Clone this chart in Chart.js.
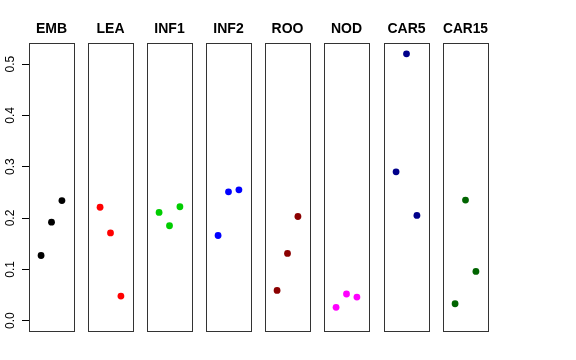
<!DOCTYPE html>
<html><head><meta charset="utf-8">
<script src="https://cdn.jsdelivr.net/npm/chart.js@4/dist/chart.umd.min.js"></script>
<style>
html,body{margin:0;padding:0;background:#fff;}
#wrap{position:relative;width:576px;height:360px;overflow:hidden;}
canvas{position:absolute;top:0;}
</style></head>
<body><div id="wrap"></div>
<script>
const categories = ['EMB','LEA','INF1','INF2','ROO','NOD','CAR5','CAR15'];
const rep1 = [0.127, 0.221, 0.211, 0.166, 0.059, 0.026, 0.290, 0.033];
const rep2 = [0.192, 0.171, 0.185, 0.251, 0.131, 0.052, 0.520, 0.235];
const rep3 = [0.234, 0.048, 0.222, 0.255, 0.203, 0.046, 0.205, 0.096];
const colors = ['#000000','#FF0000','#00CD00','#0000FF','#8B0000','#FF00FF','#00008B','#006400'];
const yTicks = [0, 0.1, 0.2, 0.3, 0.4, 0.5];
const xPos = [1, 2, 3];

const panelLefts = [29, 88, 147, 206, 265, 324, 384, 443];
const panelW = 45;
const FONT = "'Liberation Sans', Arial, Helvetica, sans-serif";

const framePlugin = {
  id: 'frame',
  afterDraw(chart) {
    const a = chart.chartArea, ctx = chart.ctx;
    ctx.save();
    ctx.strokeStyle = '#333';
    ctx.lineWidth = 1;
    ctx.strokeRect(Math.round(a.left) + 0.5, Math.round(a.top) + 0.5,
                   Math.round(a.right - a.left), Math.round(a.bottom - a.top));
    ctx.restore();
  }
};

const wrap = document.getElementById('wrap');
categories.forEach((cat, i) => {
  const first = i === 0;
  const side = 7;
  const cv = document.createElement('canvas');
  const w = first ? panelW + 29 + 29 : panelW + 2 * side;
  const left = first ? 0 : panelLefts[i] - side;
  cv.width = w; cv.height = 360;
  cv.style.width = w + 'px'; cv.style.height = '360px';
  cv.style.left = left + 'px';
  wrap.appendChild(cv);
  const vals = [rep1[i], rep2[i], rep3[i]];
  const scales = {
    x: { type: 'linear', min: -0.16, max: 4.16, display: false },
    y: {
      type: 'linear', min: -0.0201, max: 0.541,
      display: first,
      afterBuildTicks: s => { s.ticks = yTicks.map(v => ({ value: v })); },
      afterFit: s => { if (first) s.width = 29; },
      border: { display: false },
      grid: { display: true, drawOnChartArea: false, drawTicks: true, tickLength: 7, color: '#000', tickColor: '#000', lineWidth: 1 },
      ticks: {
        minRotation: 90, maxRotation: 90, crossAlign: 'center', padding: 3,
        color: '#000', font: { family: FONT, size: 12 },
        callback: v => Number(v).toFixed(1)
      }
    }
  };
  if (first) {
    scales.ySpacer = {
      type: 'linear', position: 'right', min: -0.0201, max: 0.541,
      display: true,
      border: { display: false },
      grid: { display: false },
      ticks: { display: false },
      afterFit: s => { s.width = 29; }
    };
  }
  new Chart(cv, {
    type: 'scatter',
    data: { datasets: [{
      data: xPos.map((x, k) => ({ x: x, y: vals[k] })),
      backgroundColor: colors[i],
      borderWidth: 0,
      pointRadius: 3.4
    }]},
    options: {
      responsive: false,
      animation: false,
      devicePixelRatio: 1,
      layout: { padding: { top: 20.6, bottom: 29, left: first ? 0 : side, right: first ? 0 : side } },
      plugins: {
        legend: { display: false },
        tooltip: { enabled: false },
        title: {
          display: true, text: cat, color: '#000',
          font: { family: FONT, size: 14, weight: 'bold', lineHeight: 1.2 },
          padding: { top: 0, bottom: 5.6 }
        }
      },
      scales: scales
    },
    plugins: [framePlugin]
  });
});
</script>
</body></html>
